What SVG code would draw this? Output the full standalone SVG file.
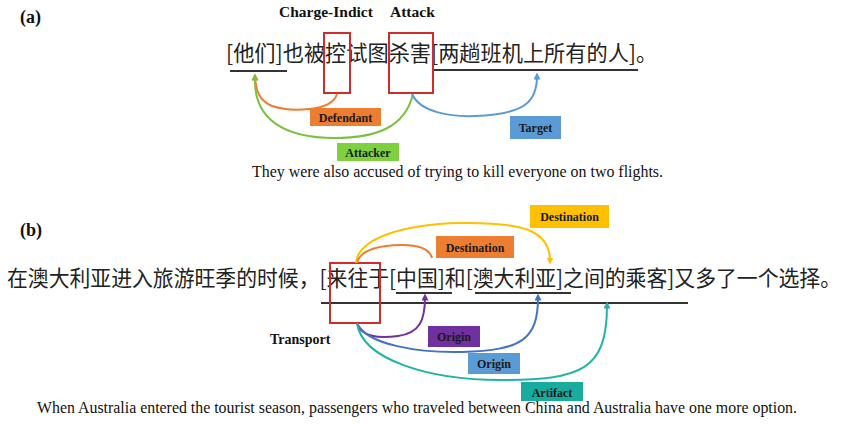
<svg xmlns="http://www.w3.org/2000/svg" width="846" height="425" viewBox="0 0 846 425">
<style>
.zh{font-family:"Noto Sans CJK SC","Noto Sans",sans-serif;font-size:21.2px;fill:#222}
.en{font-family:"Liberation Serif",serif;font-size:16.5px;fill:#111}
.hd{font-family:"Liberation Serif",serif;font-weight:bold;fill:#111}
.lb{font-family:"Liberation Serif",serif;font-weight:bold;font-size:12px;fill:#1a1a1a;text-anchor:middle}
.box{fill:none;stroke:#d42a2a;stroke-width:2}
.ul{stroke:#333;stroke-width:2}
.arc{fill:none;stroke-width:2}
</style>
<defs>
<marker id="mO" viewBox="0 0 6 6" refX="3" refY="3" markerWidth="3.5" markerHeight="3.5" orient="auto"><path d="M0,0L6,3L0,6z" fill="#ED7D31"/></marker>
<marker id="mG" viewBox="0 0 6 6" refX="3" refY="3" markerWidth="3.5" markerHeight="3.5" orient="auto"><path d="M0,0L6,3L0,6z" fill="#7CC043"/></marker>
<marker id="mB" viewBox="0 0 6 6" refX="3" refY="3" markerWidth="3.5" markerHeight="3.5" orient="auto"><path d="M0,0L6,3L0,6z" fill="#5B9BD5"/></marker>
<marker id="mY" viewBox="0 0 6 6" refX="3" refY="3" markerWidth="3.5" markerHeight="3.5" orient="auto"><path d="M0,0L6,3L0,6z" fill="#FFC000"/></marker>
<marker id="mP" viewBox="0 0 6 6" refX="3" refY="3" markerWidth="3.5" markerHeight="3.5" orient="auto"><path d="M0,0L6,3L0,6z" fill="#7030A0"/></marker>
<marker id="mB2" viewBox="0 0 6 6" refX="3" refY="3" markerWidth="3.5" markerHeight="3.5" orient="auto"><path d="M0,0L6,3L0,6z" fill="#4472C4"/></marker>
<marker id="mT" viewBox="0 0 6 6" refX="3" refY="3" markerWidth="3.5" markerHeight="3.5" orient="auto"><path d="M0,0L6,3L0,6z" fill="#1FB5A6"/></marker>
</defs>
<rect width="846" height="425" fill="#fff"/>

<!-- Part (a) -->
<g id="a-panel">
<text class="hd" x="20" y="23" font-size="18">(a)</text>
<text class="hd" x="279" y="17" font-size="15.5">Charge-Indict</text>
<text class="hd" x="390" y="17" font-size="15.5">Attack</text>
<text class="zh" x="226" y="61">[他们]也被控试图杀害[两趟班机上所有的人]。</text>
<line class="ul" x1="230" y1="71" x2="287" y2="71" stroke="#888"/>
<line class="ul" x1="433" y1="70" x2="638" y2="70"/>
</g>
<g id="a-trigger-charge"><rect class="box" x="324" y="33" width="26" height="60"/></g>
<g id="a-trigger-attack"><rect class="box" x="389" y="33" width="44" height="60"/></g>
<g id="a-defendant"><rect x="310" y="108" width="71" height="18" fill="#ED7D31"/><text class="lb" x="345.5" y="121.5">Defendant</text></g>
<g id="a-attacker"><rect x="337" y="143" width="62" height="18" fill="#7ED03E"/><text class="lb" x="368" y="156.5">Attacker</text></g>
<g id="a-target"><rect x="510" y="116" width="51" height="23" fill="#5B9BD5"/><text class="lb" x="535.5" y="131.5">Target</text></g>
<text class="en" x="252" y="177" textLength="411" lengthAdjust="spacingAndGlyphs">They were also accused of trying to kill everyone on two flights.</text>

<!-- Part (b) -->
<g id="b-panel">
<text class="hd" x="20" y="236" font-size="18">(b)</text>
<text class="zh" x="7" y="285.5" font-size="21.3px" textLength="834" lengthAdjust="spacingAndGlyphs">在澳大利亚进入旅游旺季的时候，[来往于[中国]和[澳大利亚]之间的乘客]又多了一个选择。</text>
<line class="ul" x1="321" y1="303" x2="688" y2="303" stroke="#444"/>
<line class="ul" x1="396" y1="293" x2="452" y2="293"/>
<line class="ul" x1="475" y1="293" x2="571" y2="293"/>
<text class="hd" x="270" y="344" font-size="14">Transport</text>
</g>
<g id="b-trigger"><rect class="box" x="330" y="263" width="50" height="60"/></g>
<g id="b-dest1"><rect x="530" y="205" width="79" height="23" fill="#FFC000"/><text class="lb" x="569.5" y="221" font-size="12.3">Destination</text></g>
<g id="b-dest2"><rect x="436" y="236" width="78" height="22" fill="#ED7D31"/><text class="lb" x="475" y="251.5" font-size="12.3">Destination</text></g>
<g id="b-origin1"><rect x="428" y="326" width="52" height="21" fill="#7030A0"/><text class="lb" x="454" y="341" font-size="12.5">Origin</text></g>
<g id="b-origin2"><rect x="468" y="353" width="52" height="21" fill="#5B9BD5"/><text class="lb" x="494" y="368" font-size="12.5">Origin</text></g>
<g id="b-artifact"><rect x="521" y="382" width="62" height="19" fill="#17AC9E"/><text class="lb" x="552" y="396.5" font-size="14">Artifact</text></g>
<text class="en" x="37" y="413" textLength="760" lengthAdjust="spacingAndGlyphs">When Australia entered the tourist season, passengers who traveled between China and Australia have one more option.</text>

<g id="connectors">
<path class="arc" stroke="#ED7D31" d="M337,94 C332,112 290,112 272,106 C260,101 256,92 255,77" marker-end="url(#mO)"/>
<path class="arc" stroke="#7CC043" d="M413,94 C405,128 375,138 335,138 C285,138 253,120 255,77" marker-end="url(#mG)"/>
<path class="arc" stroke="#5B9BD5" d="M412,94 C420,112 450,117 475,116 C525,114 537,102 537,76" marker-end="url(#mB)"/>
<path class="arc" stroke="#FFC000" d="M356,263 C358,238 405,224 460,223 C522,222 550,230 550,261" marker-end="url(#mY)"/>
<path class="arc" stroke="#ED7D31" d="M357,263 C360,249 382,245 402,245 C420,245 430,250 432,258"/>
<path class="arc" stroke="#7030A0" d="M357,323 C360,336 378,339 398,336 C420,333 425,320 425,297" marker-end="url(#mP)"/>
<path class="arc" stroke="#4472C4" d="M357,323 C366,345 420,353 462,352 C522,350 538,340 538,297" marker-end="url(#mB2)"/>
<path class="arc" stroke="#1FB5A6" d="M357,323 C362,360 430,380 500,380 C582,380 607,370 607,305" marker-end="url(#mT)"/>
</g>
</svg>
